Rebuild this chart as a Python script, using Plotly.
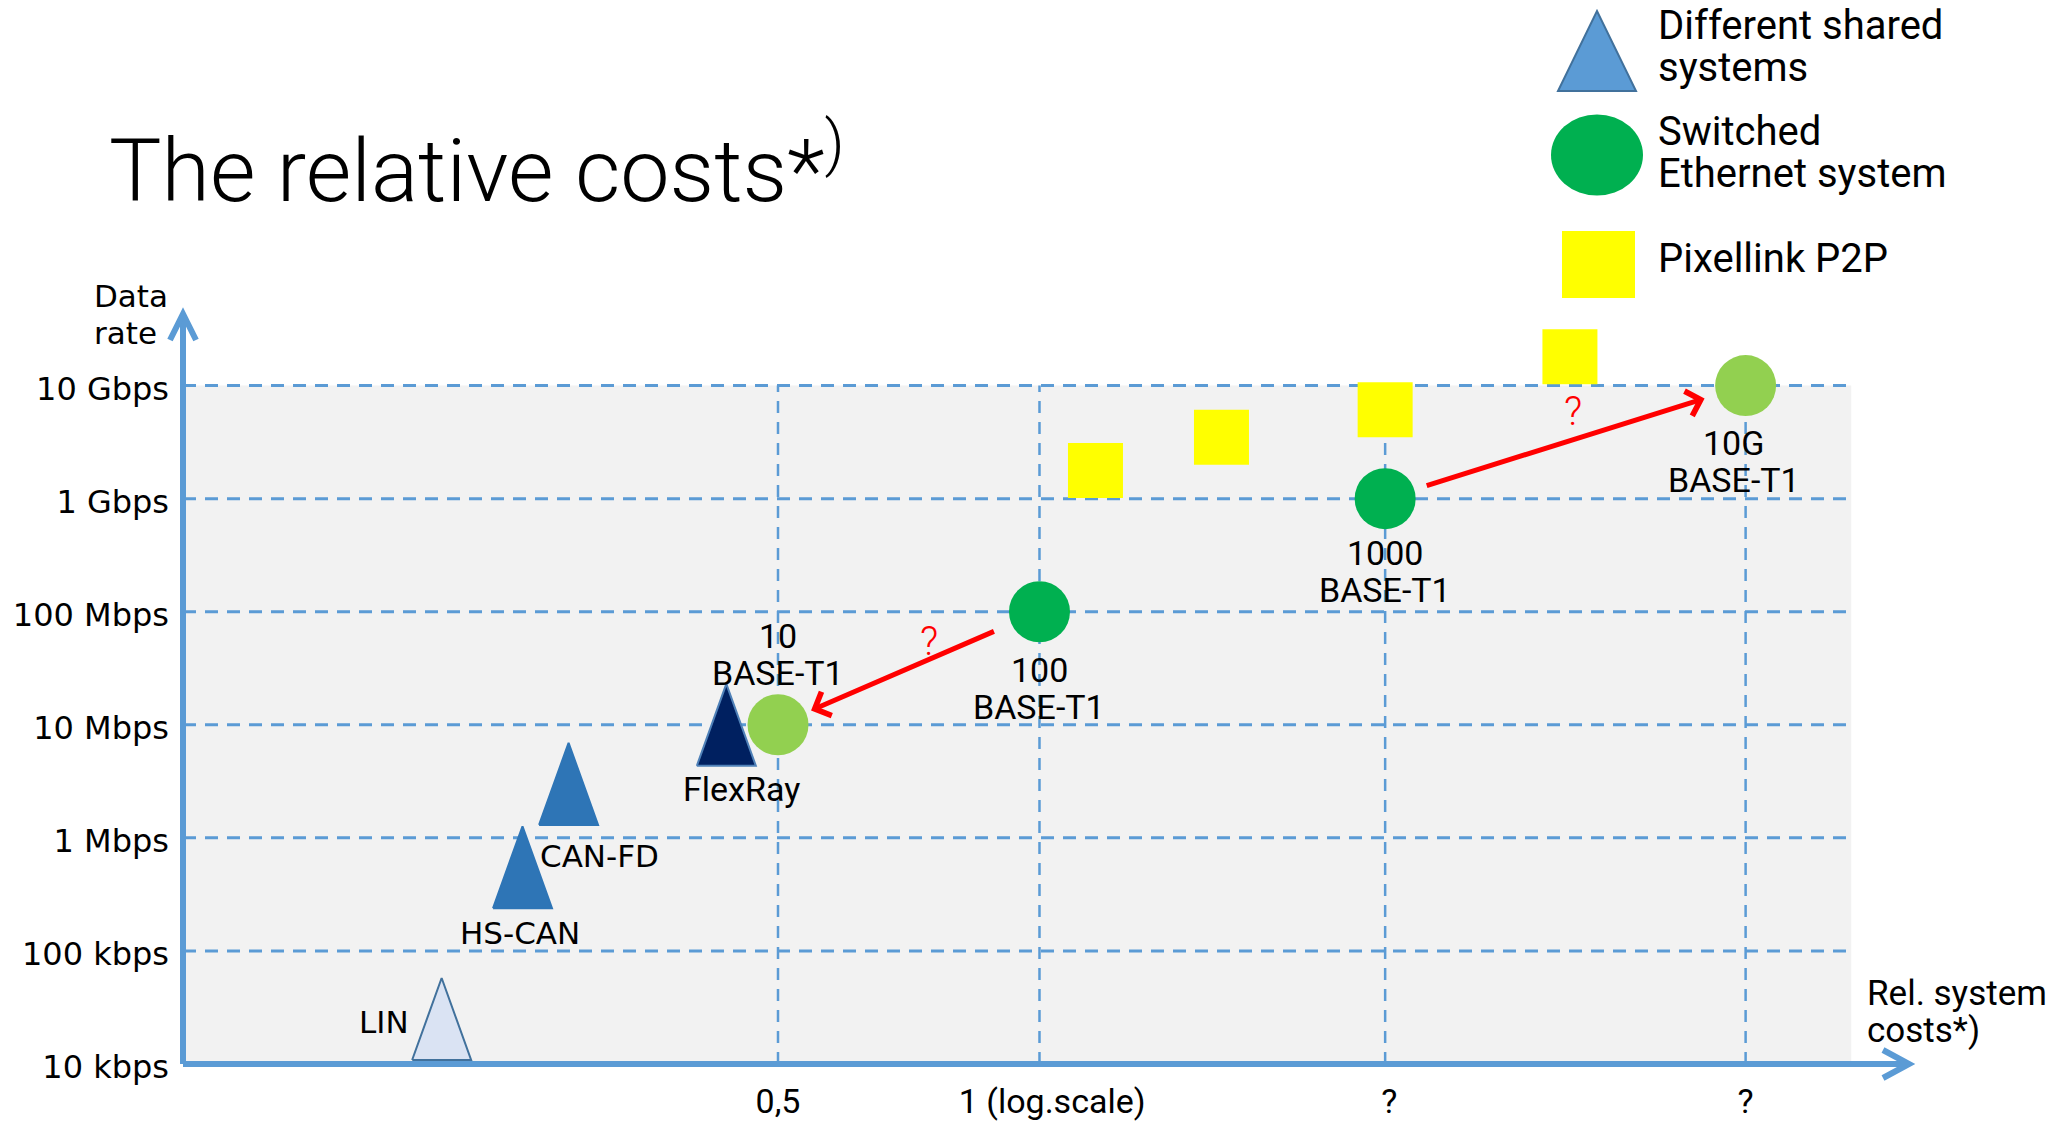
import math
import plotly.graph_objects as go

# ---------------- data ----------------
rate_tick_vals = [1e4, 1e5, 1e6, 1e7, 1e8, 1e9, 1e10]
rate_tick_text = ["10 kbps", "100 kbps", "1 Mbps", "10 Mbps", "100 Mbps", "1 Gbps", "10 Gbps"]

cost_tick_vals = [0.5, 1.0, 2.5, 6.5]
cost_tick_text = ["0,5", "\u00a0\u00a0\u00a01 (log.scale)", "\u00a0?", "?"]

# shared-medium bus systems
shared_names = ["LIN", "HS-CAN", "CAN-FD", "FlexRay"]
shared_cost = [0.205, 0.254, 0.287, 0.436]
shared_rate = [2.5e4, 5.5e5, 3.0e6, 1.0e7]

# switched automotive Ethernet generations
ethernet_names = [["10", "BASE-T1"], ["100", "BASE-T1"], ["1000", "BASE-T1"], ["10G", "BASE-T1"]]
ethernet_cost = [0.5, 1.0, 2.5, 6.5]
ethernet_rate = [1e7, 1e8, 1e9, 1e10]

# point-to-point video links
pixellink_cost = [1.16, 1.62, 2.5, 4.08]
pixellink_rate = [1.77e9, 3.5e9, 6.1e9, 1.8e10]

# cost steps between Ethernet generations that are still open (from -> to)
step_from = [1, 2]
step_to = [0, 3]

legend_labels = [["Different shared", "systems"], ["Switched", "Ethernet system"], ["Pixellink P2P"]]

# ---------------- layout / style ----------------
W, H = 2053, 1124
M_L, M_R, M_T, M_B = 183, 144, 314, 60
PLOT_W = W - M_L - M_R
PLOT_H = H - M_T - M_B
XRANGE = [-0.986, 1.001]
YRANGE = [4.0, 10.633]
PX_X = PLOT_W / (XRANGE[1] - XRANGE[0])   # pixels per decade (x)
PX_Y = PLOT_H / (YRANGE[1] - YRANGE[0])   # pixels per decade (y)
GRID_XMAX = 8.6

BLUE = "#5B9BD5"
PANEL = "#F2F2F2"
RED = "#FF0000"
NARROW = "Roboto"
WIDE = "DejaVu Sans"

TRI_W, TRI_H = 59, 82
TRI_FILL = ["#DAE3F3", "#2E75B6", "#2E75B6", "#002060"]
TRI_LINE = ["#41719C", "#2E75B6", "#2E75B6", "#4F81B8"]
CIRCLE_FILL = ["#92D050", "#00B050", "#00B050", "#92D050"]

# label offsets in pixels (dx right, dy down) from the marker centre
shared_label_off = [(-31, 3, "right"), (-3, 66, "center"), (31, 72, "center"), (15, 64, "center")]
ethernet_label_off = [(0, -89), (0, 58), (0, 54), (-12, 57)]
LINE_GAP = 37.5
step_standoff = [36, 43]
step_startstandoff = [48, 42]
step_q_off = [(20, -27), (8, -31)]


def paper_x(px):
    return (px - M_L) / PLOT_W


def paper_y(py):
    return (H - M_B - py) / PLOT_H


fig = go.Figure()
shapes = []
annotations = []

# panel background and dashed grid
shapes.append(dict(type="rect", xref="x", yref="y", x0=10 ** XRANGE[0], x1=GRID_XMAX,
                   y0=rate_tick_vals[0], y1=rate_tick_vals[-1],
                   fillcolor=PANEL, line=dict(width=0), layer="below"))
for r in rate_tick_vals[1:]:
    shapes.append(dict(type="line", xref="x", yref="y", x0=10 ** XRANGE[0], x1=GRID_XMAX,
                       y0=r, y1=r, line=dict(color=BLUE, width=3, dash="13px,9px"), layer="below"))
for c in cost_tick_vals:
    shapes.append(dict(type="line", xref="x", yref="y", x0=c, x1=c,
                       y0=rate_tick_vals[0], y1=rate_tick_vals[-1],
                       line=dict(color=BLUE, width=2.5, dash="12px,9px"), layer="below"))

# shared systems as tall triangles
fx = 10 ** (TRI_W / 2 / PX_X)
fy = 10 ** (TRI_H / 2 / PX_Y)
for i, name in enumerate(shared_names):
    c, r = shared_cost[i], shared_rate[i]
    fig.add_trace(go.Scatter(
        x=[c / fx, c * fx, c, c / fx], y=[r / fy, r / fy, r * fy, r / fy],
        mode="lines", fill="toself", fillcolor=TRI_FILL[i],
        line=dict(color=TRI_LINE[i], width=2), hoverinfo="skip", showlegend=False, name=name))
    dx, dy, anchor = shared_label_off[i]
    annotations.append(dict(x=math.log10(c), y=math.log10(r), xref="x", yref="y",
                            text=name, showarrow=False, xanchor=anchor, yanchor="middle",
                            xshift=dx, yshift=-dy,
                            font=dict(family=WIDE if i < 3 else NARROW, size=31 if i < 3 else 34,
                                      color="black")))

# pixellink squares
fig.add_trace(go.Scatter(x=pixellink_cost, y=pixellink_rate, mode="markers",
                         marker=dict(symbol="square", size=55, color="#FFFF00", line=dict(width=0)),
                         hoverinfo="skip", showlegend=False, name="Pixellink P2P"))

# ethernet circles
fig.add_trace(go.Scatter(x=ethernet_cost, y=ethernet_rate, mode="markers",
                         marker=dict(symbol="circle", size=61, color=CIRCLE_FILL, line=dict(width=0)),
                         hoverinfo="skip", showlegend=False, name="Ethernet"))
for i, lines in enumerate(ethernet_names):
    dx, dy = ethernet_label_off[i]
    for k, line in enumerate(lines):
        annotations.append(dict(x=math.log10(ethernet_cost[i]), y=math.log10(ethernet_rate[i]),
                                xref="x", yref="y", text=line, showarrow=False,
                                xanchor="center", yanchor="middle",
                                xshift=dx, yshift=-(dy + k * LINE_GAP),
                                font=dict(family=NARROW, size=34, color="black")))

# uncertain cost steps
for j in range(len(step_from)):
    f, t = step_from[j], step_to[j]
    annotations.append(dict(x=math.log10(ethernet_cost[t]), y=math.log10(ethernet_rate[t]),
                            ax=math.log10(ethernet_cost[f]), ay=math.log10(ethernet_rate[f]),
                            xref="x", yref="y", axref="x", ayref="y", text="",
                            showarrow=True, arrowhead=4, arrowsize=1.0, arrowwidth=5,
                            arrowcolor=RED, standoff=step_standoff[j],
                            startstandoff=step_startstandoff[j]))
    mx = (math.log10(ethernet_cost[f]) + math.log10(ethernet_cost[t])) / 2
    my = (math.log10(ethernet_rate[f]) + math.log10(ethernet_rate[t])) / 2
    qdx, qdy = step_q_off[j]
    annotations.append(dict(x=mx, y=my, xref="x", yref="y", text="?", showarrow=False,
                            xshift=qdx, yshift=-qdy, xanchor="center", yanchor="middle",
                            font=dict(family=NARROW, size=40, color=RED, weight=300)))

# axis arrows
shapes.append(dict(type="line", xref="paper", yref="paper", x0=0, y0=0, x1=1, y1=0,
                   line=dict(color=BLUE, width=6), layer="above"))
shapes.append(dict(type="line", xref="paper", yref="paper", x0=0, y0=0, x1=0, y1=1,
                   line=dict(color=BLUE, width=6), layer="above"))
shapes.append(dict(type="path", xref="paper", yref="paper", xsizemode="pixel", ysizemode="pixel",
                   xanchor=1, yanchor=0, path="M -26,14 L 0,0 L -26,-14",
                   line=dict(color=BLUE, width=6), layer="above"))
shapes.append(dict(type="path", xref="paper", yref="paper", xsizemode="pixel", ysizemode="pixel",
                   xanchor=0, yanchor=1, path="M -13,-26 L 0,0 L 13,-26",
                   line=dict(color=BLUE, width=6), layer="above"))

# axis titles
for k, line in enumerate(["Data", "rate"]):
    annotations.append(dict(x=paper_x(92), y=paper_y(296 + k * 37), xref="paper", yref="paper",
                            text=line, showarrow=False, xanchor="left", yanchor="middle",
                            font=dict(family=WIDE, size=31, color="black")))
for k, line in enumerate(["Rel. system", "costs*)"]):
    annotations.append(dict(x=paper_x(1865), y=paper_y(993.5 + k * 37), xref="paper", yref="paper",
                            text=line, showarrow=False, xanchor="left", yanchor="middle",
                            font=dict(family=NARROW, size=35, color="black")))

# title
annotations.append(dict(x=paper_x(107), y=paper_y(164), xref="paper", yref="paper",
                        text="The relative costs*<sup>)</sup>", showarrow=False,
                        xanchor="left", yanchor="middle",
                        font=dict(family=NARROW, size=88, color="black", weight=300)))

# legend glyphs
shapes.append(dict(type="path", xref="paper", yref="paper", xsizemode="pixel", ysizemode="pixel",
                   xanchor=paper_x(1597), yanchor=paper_y(51), path="M -39,-40 L 39,-40 L 0,40 Z",
                   fillcolor=BLUE, line=dict(color="#41719C", width=2)))
shapes.append(dict(type="circle", xref="paper", yref="paper", xsizemode="pixel", ysizemode="pixel",
                   xanchor=paper_x(1597), yanchor=paper_y(155), x0=-46, x1=46, y0=-40.5, y1=40.5,
                   fillcolor="#00B050", line=dict(width=0)))
shapes.append(dict(type="rect", xref="paper", yref="paper", xsizemode="pixel", ysizemode="pixel",
                   xanchor=paper_x(1598.5), yanchor=paper_y(264.5), x0=-36.5, x1=36.5, y0=-33.5, y1=33.5,
                   fillcolor="#FFFF00", line=dict(width=0)))
legend_line_y = [[25, 68], [131, 173.5], [258.5]]
for lines, ys in zip(legend_labels, legend_line_y):
    for line, yy in zip(lines, ys):
        annotations.append(dict(x=paper_x(1656), y=paper_y(yy), xref="paper", yref="paper",
                                text=line, showarrow=False, xanchor="left", yanchor="middle",
                                font=dict(family=NARROW, size=40, color="black")))

fig.update_layout(
    width=W, height=H,
    margin=dict(l=M_L, r=M_R, t=M_T, b=M_B, pad=0),
    paper_bgcolor="white", plot_bgcolor="white",
    showlegend=False,
    shapes=shapes, annotations=annotations,
    xaxis=dict(type="log", range=XRANGE, tickvals=cost_tick_vals, ticktext=cost_tick_text,
               showgrid=False, zeroline=False, showline=False, ticks="", automargin=False,
               ticklabelstandoff=14, tickfont=dict(family=NARROW, size=34, color="black"),
               fixedrange=True),
    yaxis=dict(type="log", range=YRANGE, tickvals=rate_tick_vals, ticktext=rate_tick_text,
               showgrid=False, zeroline=False, showline=False, ticks="", automargin=False,
               ticklabelstandoff=13, ticklabelshift=3,
               tickfont=dict(family=WIDE, size=32, color="black"),
               fixedrange=True),
)

fig.write_html("out.html", config=dict(displayModeBar=False))
